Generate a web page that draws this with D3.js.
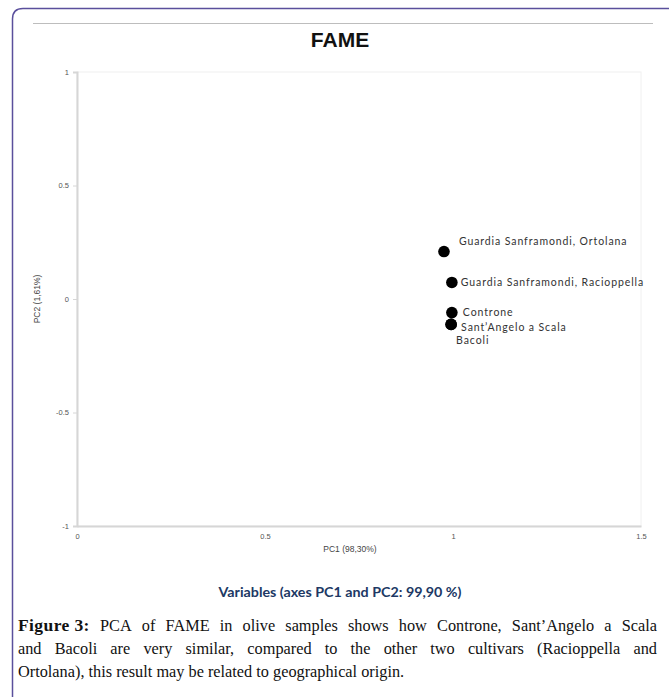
<!DOCTYPE html>
<html><head><meta charset="utf-8">
<script src="https://cdn.jsdelivr.net/npm/d3@7"></script>
<style>body{margin:0;background:#fff}svg{display:block}</style>
</head><body>
<svg id="c" width="669" height="697"></svg>
<script>
const samples = ["Guardia Sanframondi, Ortolana","Guardia Sanframondi, Racioppella","Controne","Sant\u2019Angelo a Scala","Bacoli"];
const pc1 = [0.976, 0.997, 0.997, 0.995, 0.995];
const pc2 = [0.209, 0.073, -0.060, -0.112, -0.112];
const xTicks = [0, 0.5, 1, 1.5];
const yTicks = [-1, -0.5, 0, 0.5, 1];
const xTickLabels = ["0", "0.5", "1", "1.5"];
const yTickLabels = ["-1", "-0.5", "0", "0.5", "1"];
const labelOffsets = [[15,-10],[9,0],[11,0],[10,3],[5,16]];
const captionLines = [
  ["Figure 3:", "PCA of FAME in olive samples shows how Controne, Sant\u2019Angelo a Scala"],
  ["", "and Bacoli are very similar, compared to the other two cultivars (Racioppella and"],
  ["", "Ortolana), this result may be related to geographical origin."]
];

const svg = d3.select("#c");
svg.append("path").attr("d","M12.5,700 L12.5,19 Q12.5,8.5 23,8.5 L680,8.5")
  .attr("fill","none").attr("stroke","#5a4f9c").attr("stroke-width",1.5);
svg.append("line").attr("x1",33).attr("x2",653).attr("y1",23.5).attr("y2",23.5)
  .attr("stroke","#bdbdbd").attr("stroke-width",1);

const x = d3.scaleLinear().domain([0,1.5]).range([77,641]);
const y = d3.scaleLinear().domain([-1,1]).range([526,72]);

svg.append("rect").attr("x",x(0)).attr("y",y(1)).attr("width",x(1.5)-x(0)).attr("height",y(-1)-y(1))
  .attr("fill","none").attr("stroke","#f0f0f0").attr("stroke-width",1);

const yAxis = svg.append("g").attr("transform",`translate(${x(0)},0)`)
  .call(d3.axisLeft(y).tickValues(yTicks).tickFormat((d,i)=>yTickLabels[i]).tickSize(4).tickPadding(4));
const xAxis = svg.append("g").attr("transform",`translate(0,${y(-1)})`)
  .call(d3.axisBottom(x).tickValues(xTicks).tickFormat((d,i)=>xTickLabels[i]).tickSize(0).tickPadding(8));
[yAxis,xAxis].forEach(g=>{
  g.select(".domain").attr("stroke","#d6d6d6").attr("stroke-width",2);
  g.selectAll(".tick line").attr("stroke","#d6d6d6").attr("stroke-width",1);
  g.selectAll("text").attr("fill","#555").attr("font-family","Liberation Sans, Arial, sans-serif").attr("font-size",7.5);
});

svg.append("text").attr("x",350).attr("y",552).attr("text-anchor","middle")
  .attr("font-family","Liberation Sans, Arial, sans-serif").attr("font-size",8.5).attr("fill","#444").text("PC1 (98,30%)");
svg.append("text").attr("transform",`translate(40,${y(0)}) rotate(-90)`).attr("text-anchor","middle")
  .attr("font-family","Liberation Sans, Arial, sans-serif").attr("font-size",8.5).attr("fill","#444").text("PC2 (1,61%)");

svg.append("text").attr("x",340).attr("y",47).attr("text-anchor","middle")
  .attr("font-family","Liberation Sans, Arial, sans-serif").attr("font-weight","bold").attr("font-size",21).attr("fill","#111").text("FAME");

const data = samples.map((s,i)=>({s, a:pc1[i], b:pc2[i], o:labelOffsets[i]}));
svg.append("g").selectAll("circle").data(data).join("circle")
  .attr("cx",d=>x(d.a)).attr("cy",d=>y(d.b)).attr("r",5.8).attr("fill","#000");
svg.append("g").selectAll("text").data(data).join("text")
  .attr("x",d=>x(d.a)+d.o[0]).attr("y",d=>y(d.b)+d.o[1]).attr("dy","0.35em")
  .attr("font-family","Lato, Open Sans, sans-serif").attr("font-size",10.5).attr("letter-spacing",0.9)
  .attr("fill","#333").text(d=>d.s);

svg.append("text").attr("x",340).attr("y",597).attr("text-anchor","middle")
  .attr("font-family","Lato, Open Sans, sans-serif").attr("font-weight","bold").attr("font-size",13).attr("fill","#203864")
  .attr("textLength",243).attr("lengthAdjust","spacingAndGlyphs")
  .text("Variables (axes PC1 and PC2: 99,90 %)");

const capLeft = 18, capRight = 657, base0 = 631, lh = 23;
const fs = 16.3;
captionLines.forEach((ln,li)=>{
  const words = [];
  if (ln[0]) words.push({t:ln[0], b:true});
  ln[1].split(" ").forEach(w=>words.push({t:w,b:false}));
  const g = svg.append("g");
  const nodes = words.map(w=>g.append("text").attr("y",base0+li*lh)
    .attr("font-family","Liberation Serif, Times New Roman, serif").attr("font-size",w.b?17.5:fs)
    .attr("letter-spacing",w.b?0.4:0)
    .attr("font-weight",w.b?"bold":"normal").attr("fill","#111").text(w.t));
  const widths = nodes.map(n=>n.node().getComputedTextLength());
  const total = d3.sum(widths);
  const justify = li < captionLines.length-1;
  const gap = justify ? (capRight-capLeft-total)/(words.length-1) : fs*0.25;
  let cx = capLeft;
  nodes.forEach((n,i)=>{ n.attr("x",cx); cx += widths[i]+gap; });
});
</script>
</body></html>
